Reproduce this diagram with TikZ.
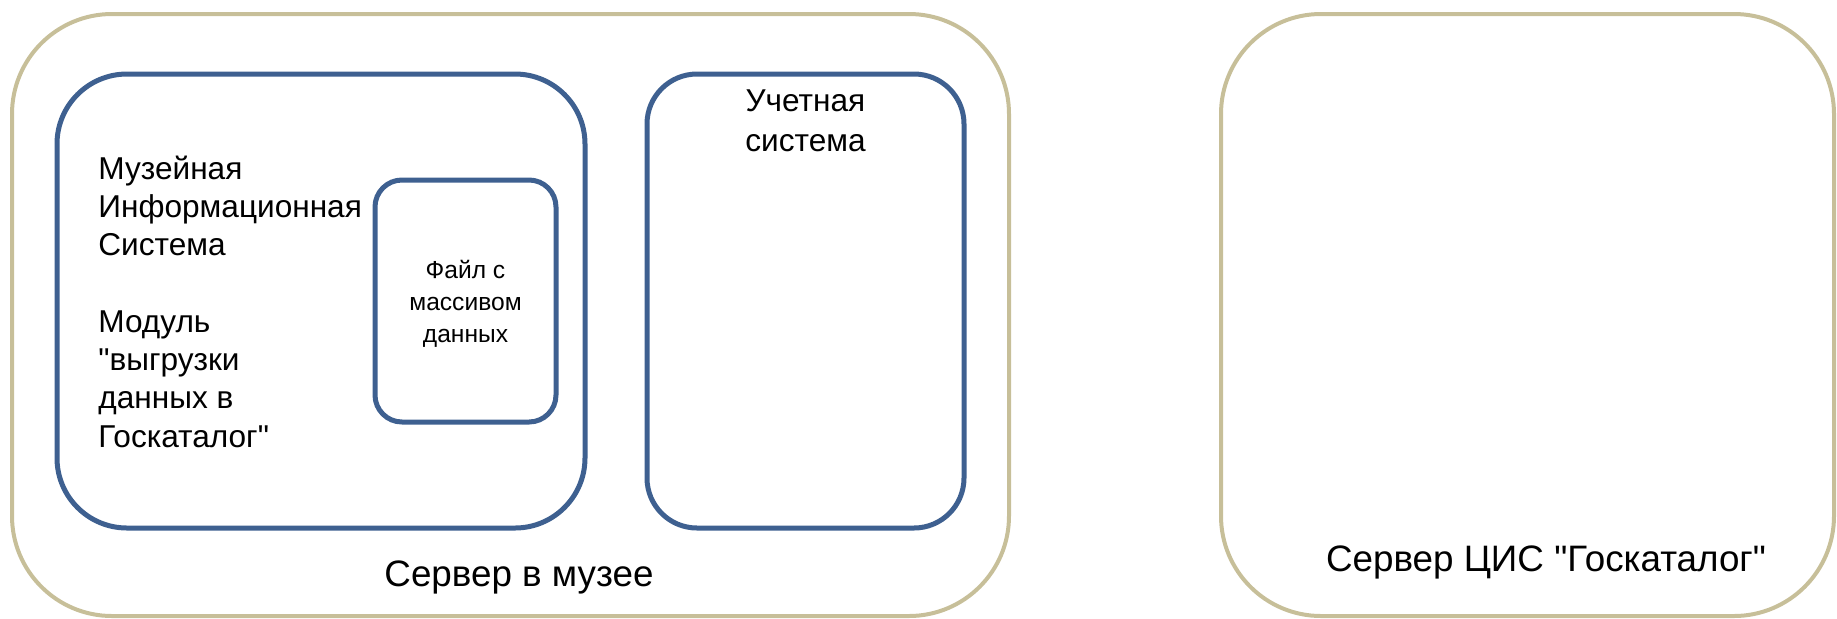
\documentclass[tikz,border=0pt]{standalone}
\usepackage{fontspec}
\setmainfont{Liberation Sans}
\newfontfamily\qfont{Liberation Sans}
\definecolor{tanc}{RGB}{199,191,153}
\definecolor{bluec}{RGB}{62,96,144}
\newcommand{\qt}{{\qfont\char34}}
\tikzset{
  server/.style={draw=tanc, line width=2pt, rounded corners=50pt, inner sep=0pt, fill=none},
  sysbox/.style={draw=bluec, line width=2.5pt, inner sep=0pt, fill=none},
  bigtxt/.style={font=\fontsize{15.8}{19.15}\selectfont, inner sep=0pt},
  smalltxt/.style={font=\fontsize{12.3}{16}\selectfont, inner sep=0pt, align=center},
  labeltxt/.style={font=\fontsize{18.4}{22}\selectfont, inner sep=0pt}
}
\begin{document}
\begin{tikzpicture}[x=0.5pt, y=-0.5pt]
\useasboundingbox (0,0) rectangle (1837,618);
% servers
\node[server, minimum width=498.5pt, minimum height=301pt] (museum) at (510.5,315) {};
\node[server, minimum width=306.5pt, minimum height=301pt] (gk) at (1527.5,315) {};
% systems
\node[sysbox, rounded corners=35pt, minimum width=264pt, minimum height=227pt] (mis) at (321,301) {};
\node[sysbox, rounded corners=13.5pt, minimum width=90.5pt, minimum height=121pt] (file) at (465.5,301) {};
\node[sysbox, rounded corners=25pt, minimum width=158.5pt, minimum height=227pt] (acc) at (805.5,301) {};
% texts
\node[bigtxt, align=left, anchor=north west] (mistxt) at (98,155.2)
  {Музейная\\Информационная\\Система\\[19.15pt]Модуль\\\qt выгрузки\\данных в\\Госкаталог\qt};
\node[smalltxt, anchor=north] (filetxt) at (465.5,260.3) {Файл с\\массивом\\данных};
\node[font=\fontsize{15.8}{20}\selectfont, inner sep=0pt, align=center, anchor=north] (acctxt) at (805.5,89) {Учетная\\система};
\node[labeltxt, anchor=base] (museumtxt) at (519,586.7) {Сервер в музее};
\node[labeltxt, anchor=base] (gktxt) at (1546,571.7) {Сервер ЦИС \qt Госкаталог\qt};
\end{tikzpicture}
\end{document}
